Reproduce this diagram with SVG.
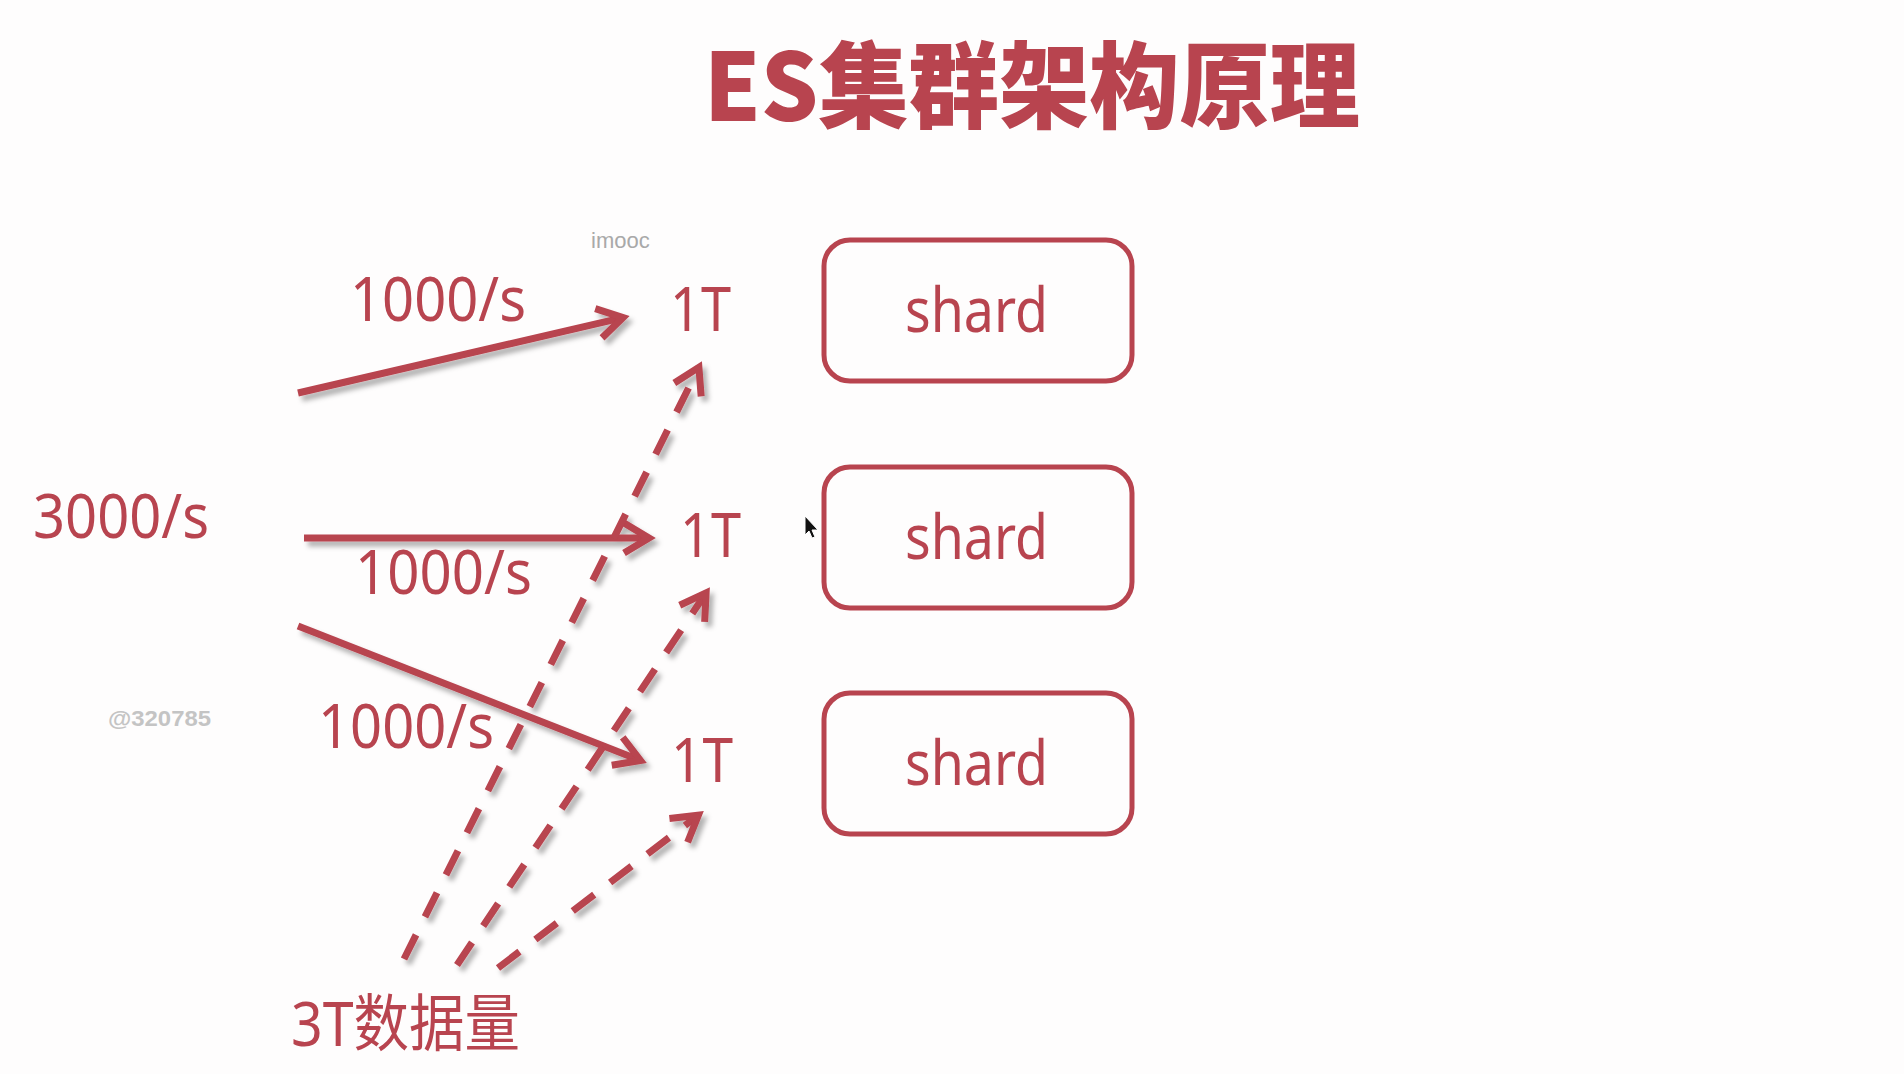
<svg xmlns="http://www.w3.org/2000/svg" width="1904" height="1074" viewBox="0 0 1904 1074">
  <style>
    .lbl { font-family: "Noto Sans", "Noto Sans CJK SC", sans-serif; font-size: 62px; fill: #b8444f; }
    .title { font-family: "Noto Sans CJK SC", "Noto Sans", sans-serif; font-size: 94px; font-weight: 900; fill: #b8444f; }
    .box { fill: none; stroke: #b8444f; stroke-width: 5; }
    .mark { font-family: "Liberation Sans", sans-serif; font-size: 22px; fill: #a9a9a9; }
    .id { font-family: "Liberation Sans", sans-serif; font-size: 22px; font-weight: bold; fill: #c4c4c4; }
    .arrow { fill: none; stroke: #b8444f; stroke-width: 7; marker-end: url(#head); }
    .dash { stroke-dasharray: 27 20; }
  </style>
  <defs>
    <filter id="shadow" x="-20%" y="-20%" width="140%" height="140%">
      <feGaussianBlur in="SourceAlpha" stdDeviation="2.5"/>
      <feOffset dx="4" dy="5" result="b"/>
      <feFlood flood-color="#000" flood-opacity="0.3"/>
      <feComposite in2="b" operator="in"/>
      <feMerge><feMergeNode/><feMergeNode in="SourceGraphic"/></feMerge>
    </filter>
    <!-- open chevron head; apex sits on the line end -->
    <marker id="head" markerUnits="userSpaceOnUse" markerWidth="50" markerHeight="44" viewBox="0 0 50 44" refX="33" refY="22" orient="auto">
      <path d="M8,7 L33,22 L8,37" fill="none" stroke="#b8444f" stroke-width="7" stroke-linejoin="miter"/>
    </marker>
  </defs>

  <rect width="1904" height="1074" fill="#fefdfd"/>

  <g id="title">
    <text class="title" x="704" y="121" textLength="656" lengthAdjust="spacingAndGlyphs">ES集群架构原理</text>
  </g>

  <g id="watermark">
    <text class="mark" x="591" y="248">imooc</text>
    <text class="id" x="108" y="726" textLength="103" lengthAdjust="spacingAndGlyphs">@320785</text>
  </g>

  <g id="connectors" filter="url(#shadow)">
    <line class="arrow" x1="298" y1="393" x2="623" y2="317.6"/>
    <line class="arrow" x1="304" y1="538" x2="649" y2="538"/>
    <line class="arrow" x1="298" y1="626" x2="640.5" y2="760.4"/>
    <line class="arrow dash" x1="404" y1="959" x2="698.9" y2="367.3"/>
    <line class="arrow dash" x1="457" y1="965" x2="706.1" y2="592.8"/>
    <line class="arrow dash" x1="498" y1="968" x2="698.4" y2="815.2"/>
  </g>

  <g id="rate-total">
    <text class="lbl" x="33" y="538" textLength="176" lengthAdjust="spacingAndGlyphs">3000/s</text>
  </g>
  <g id="rate-1">
    <text class="lbl" x="350" y="321" textLength="176" lengthAdjust="spacingAndGlyphs">1000/s</text>
  </g>
  <g id="rate-2">
    <text class="lbl" x="355" y="594" textLength="177" lengthAdjust="spacingAndGlyphs">1000/s</text>
  </g>
  <g id="rate-3">
    <text class="lbl" x="318" y="748" textLength="176" lengthAdjust="spacingAndGlyphs">1000/s</text>
  </g>

  <g id="size-1">
    <text class="lbl" x="670" y="331" textLength="61" lengthAdjust="spacingAndGlyphs">1T</text>
  </g>
  <g id="size-2">
    <text class="lbl" x="680" y="557" textLength="61" lengthAdjust="spacingAndGlyphs">1T</text>
  </g>
  <g id="size-3">
    <text class="lbl" x="671" y="782" textLength="62" lengthAdjust="spacingAndGlyphs">1T</text>
  </g>

  <g id="shard-1">
    <rect class="box" x="824" y="240" width="308" height="141" rx="26"/>
    <text class="lbl" x="905" y="332" textLength="143" lengthAdjust="spacingAndGlyphs">shard</text>
  </g>
  <g id="shard-2">
    <rect class="box" x="824" y="467" width="308" height="141" rx="26"/>
    <text class="lbl" x="905" y="559" textLength="143" lengthAdjust="spacingAndGlyphs">shard</text>
  </g>
  <g id="shard-3">
    <rect class="box" x="824" y="693" width="308" height="141" rx="26"/>
    <text class="lbl" x="905" y="785" textLength="143" lengthAdjust="spacingAndGlyphs">shard</text>
  </g>

  <g id="data-total">
    <text class="lbl" x="291" y="1046" textLength="229" lengthAdjust="spacingAndGlyphs">3T数据量</text>
  </g>

  <g id="pointer">
    <path d="M805,516 L805,535 L809,531 L812,538 L815,537 L812,530 L818,530 Z" fill="#111" stroke="#fff" stroke-width="1"/>
  </g>
</svg>
